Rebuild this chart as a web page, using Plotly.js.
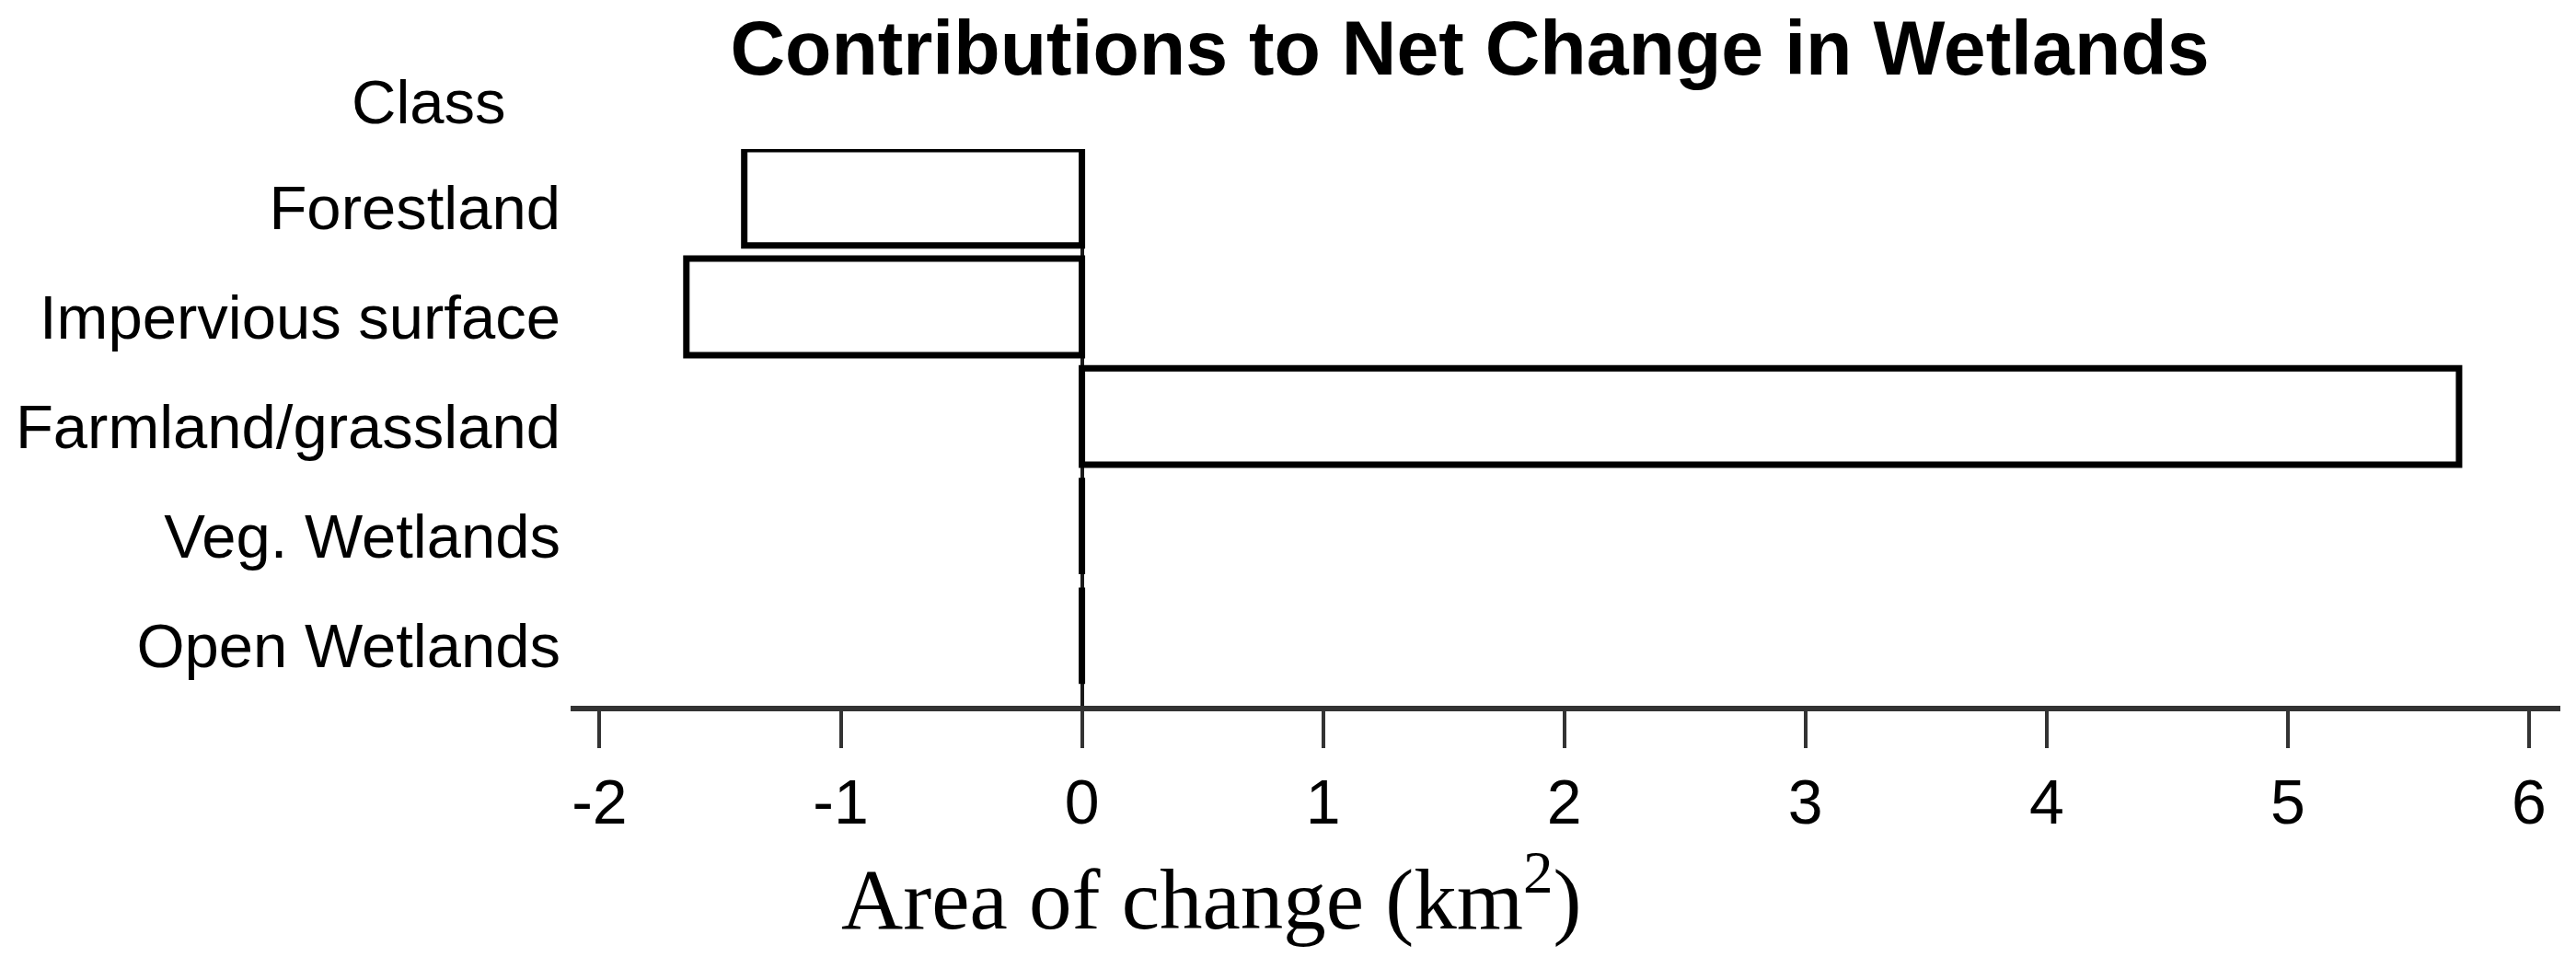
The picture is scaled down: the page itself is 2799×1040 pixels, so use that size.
<!DOCTYPE html>
<html>
<head>
<meta charset="utf-8">
<script src="https://cdn.plot.ly/plotly-3.0.1.min.js"></script>
<style>html,body{margin:0;padding:0;background:#fff;}#chart{width:2799px;height:1040px;}</style>
</head>
<body>
<div id="chart"></div>
<script>
// ---- data ----
const categories = ['Forestland', 'Impervious surface', 'Farmland/grassland', 'Veg. Wetlands', 'Open Wetlands'];
const netChange = [-1.40, -1.64, 5.71, 0, 0];
const xTickVals = [-2, -1, 0, 1, 2, 3, 4, 5, 6];
const xTickText = ['-2', '-1', '0', '1', '2', '3', '4', '5', '6'];
const chartTitle = 'Contributions to Net Change in Wetlands';
const yLabel = 'Class';
const xLabel = 'Area of change (km<sup>2</sup>)';

const trace = {
  type: 'bar',
  orientation: 'h',
  x: netChange,
  y: categories,
  marker: { color: '#ffffff', line: { color: '#000000', width: 7 } },
  hoverinfo: 'x+y'
};

const layout = {
  width: 2799,
  height: 1040,
  margin: { l: 620, r: 17, t: 162, b: 273, pad: 0 },
  paper_bgcolor: '#ffffff',
  plot_bgcolor: '#ffffff',
  showlegend: false,
  bargap: 0.12,
  font: { family: 'Liberation Sans, Arial, sans-serif', color: '#000000' },
  title: {
    text: chartTitle,
    font: { family: 'Liberation Sans, Arial, sans-serif', size: 82.5, color: '#000000', weight: 'bold' },
    x: 1597 / 2799,
    xanchor: 'center',
    xref: 'container',
    yref: 'container',
    y: 0.978,
    yanchor: 'top'
  },
  xaxis: {
    range: [-2.12, 6.13],
    tickmode: 'array',
    tickvals: xTickVals,
    ticktext: xTickText,
    ticks: 'outside',
    ticklen: 40,
    tickwidth: 4,
    tickcolor: '#333333',
    showline: true,
    linewidth: 6,
    linecolor: '#333333',
    zeroline: true,
    zerolinewidth: 4,
    zerolinecolor: '#1a1a1a',
    showgrid: false,
    tickfont: { family: 'Liberation Sans, Arial, sans-serif', size: 68, color: '#000000' },
    fixedrange: true
  },
  yaxis: {
    type: 'category',
    range: [4.64, -0.44],
    showline: false,
    ticks: '',
    showgrid: false,
    zeroline: false,
    ticklabelstandoff: 10,
    ticklabelshift: -11,
    tickfont: { family: 'Liberation Sans, Arial, sans-serif', size: 67, color: '#000000' },
    fixedrange: true
  },
  annotations: [
    {
      text: yLabel,
      xref: 'paper', yref: 'paper',
      x: -0.0712, y: 1.085,
      xanchor: 'center', yanchor: 'middle',
      showarrow: false,
      font: { family: 'Liberation Sans, Arial, sans-serif', size: 67, color: '#000000' }
    },
    {
      text: xLabel,
      xref: 'paper', yref: 'paper',
      x: 0.322, y: -0.337,
      xanchor: 'center', yanchor: 'middle',
      showarrow: false,
      font: { family: 'Liberation Serif, Times New Roman, serif', size: 93, color: '#000000' }
    }
  ]
};

Plotly.newPlot('chart', [trace], layout, { displayModeBar: false, responsive: false, staticPlot: true });
</script>
</body>
</html>
